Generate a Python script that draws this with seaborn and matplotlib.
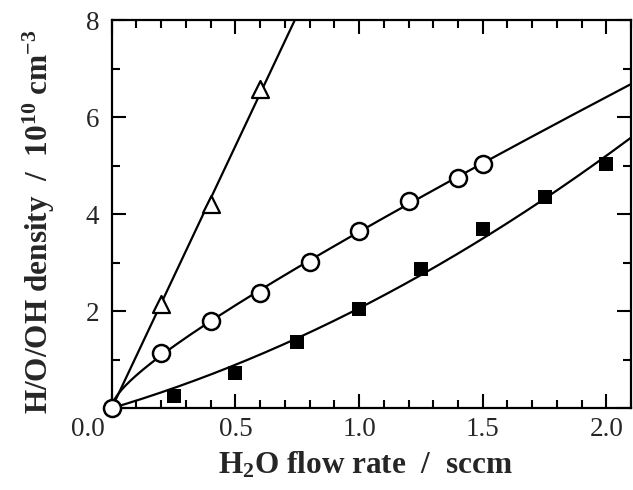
import numpy as np
import pandas as pd
import matplotlib
matplotlib.use("Agg")
import matplotlib.pyplot as plt
import matplotlib.transforms as mtransforms
from matplotlib.ticker import MultipleLocator
import seaborn as sns

# ---- data ----
tri_x = [0.0, 0.2, 0.4, 0.6]
tri_y = [0.0, 2.15, 4.2, 6.57]

circ_x = [0.0, 0.2, 0.4, 0.6, 0.8, 1.0, 1.2, 1.4, 1.5]
circ_y = [0.0, 1.14, 1.79, 2.38, 3.01, 3.66, 4.27, 4.75, 5.04]

sq_x = [0.25, 0.5, 0.75, 1.0, 1.25, 1.5, 1.75, 2.0]
sq_y = [0.25, 0.73, 1.36, 2.05, 2.87, 3.69, 4.36, 5.04]

x_ticks = [0.0, 0.5, 1.0, 1.5, 2.0]
x_ticklabels = ["0.0", "0.5", "1.0", "1.5", "2.0"]
y_ticks = [0, 2, 4, 6, 8]
y_ticklabels = ["", "2", "4", "6", "8"]

sns.set_theme(style="ticks")
plt.rcParams["font.family"] = ["Liberation Serif", "DejaVu Serif"]
plt.rcParams["mathtext.fontset"] = "custom"
plt.rcParams["mathtext.rm"] = "Liberation Serif"
plt.rcParams["mathtext.bf"] = "Liberation Serif:bold"
plt.rcParams["mathtext.it"] = "Liberation Serif:italic"

fig = plt.figure(figsize=(6.33, 4.90), dpi=100)
ax = fig.add_axes([0.1765, 0.167, 0.8205, 0.792])
ax.set_xlim(0, 2.1)
ax.set_ylim(0, 8)


def fit_curve(xs, ys, powers, x_end):
    xs = np.asarray(xs, float)
    ys = np.asarray(ys, float)
    A = np.column_stack([xs ** p for p in powers])
    coef, *_ = np.linalg.lstsq(A, ys, rcond=None)
    xx = np.linspace(0, x_end, 300)
    yy = sum(c * xx ** p for c, p in zip(coef, powers))
    return pd.DataFrame({"x": xx, "y": yy})


# fitted curves (least squares through the origin)
fits = [
    fit_curve(tri_x, tri_y, [1], 0.9),
    fit_curve(circ_x, circ_y, [0.5, 1], 2.1),
    fit_curve([0.0] + sq_x, [0.0] + sq_y, [1, 2], 2.1),
]
for df in fits:
    sns.lineplot(data=df, x="x", y="y", ax=ax, color="black", lw=1.6,
                 estimator=None, sort=False)

sns.scatterplot(x=tri_x[1:], y=tri_y[1:], ax=ax, marker="^", s=150,
                facecolor="white", edgecolor="black", linewidth=1.6,
                zorder=5, clip_on=False)
sns.scatterplot(x=circ_x, y=circ_y, ax=ax, marker="o", s=150,
                facecolor="white", edgecolor="black", linewidth=1.8,
                zorder=6, clip_on=False)
sns.scatterplot(x=sq_x, y=sq_y, ax=ax, marker="s", s=100,
                color="black", edgecolor="black", linewidth=0,
                zorder=5, clip_on=False)

ax.set_xlim(0, 2.1)
ax.set_ylim(0, 8)

ax.set_xticks(x_ticks)
ax.set_xticklabels(x_ticklabels)
ax.set_yticks(y_ticks)
ax.set_yticklabels(y_ticklabels)
ax.xaxis.set_minor_locator(MultipleLocator(0.1))
ax.yaxis.set_minor_locator(MultipleLocator(1))

ax.tick_params(which="both", direction="in", top=True, right=True,
               color="black", width=1.5)
ax.tick_params(which="major", length=10, labelsize=19.5)
ax.tick_params(axis="x", which="major", pad=6)
ax.tick_params(axis="y", which="major", pad=9)
ax.tick_params(which="minor", length=5.5)

for s in ax.spines.values():
    s.set_linewidth(1.6)
    s.set_color("black")

# shift the "0.0" label to the left, as in the reference
lbl0 = ax.get_xticklabels()[0]
lbl0.set_transform(lbl0.get_transform() +
                   mtransforms.ScaledTranslation(-24 / 100, 0, fig.dpi_scale_trans))

ax.set_xlabel(r"H$_\mathbf{2}$O flow rate  /  sccm", fontsize=22.5,
              fontweight="bold")
ax.set_ylabel(r"H/O/OH density  /  $\mathbf{10^{10}}$ cm$\mathbf{^{-3}}$",
              fontsize=22.5, fontweight="bold")
ax.xaxis.set_label_coords(0.488, -0.108)
ax.yaxis.set_label_coords(-0.105, 0.48)

fig.savefig("out.png", dpi=100)
